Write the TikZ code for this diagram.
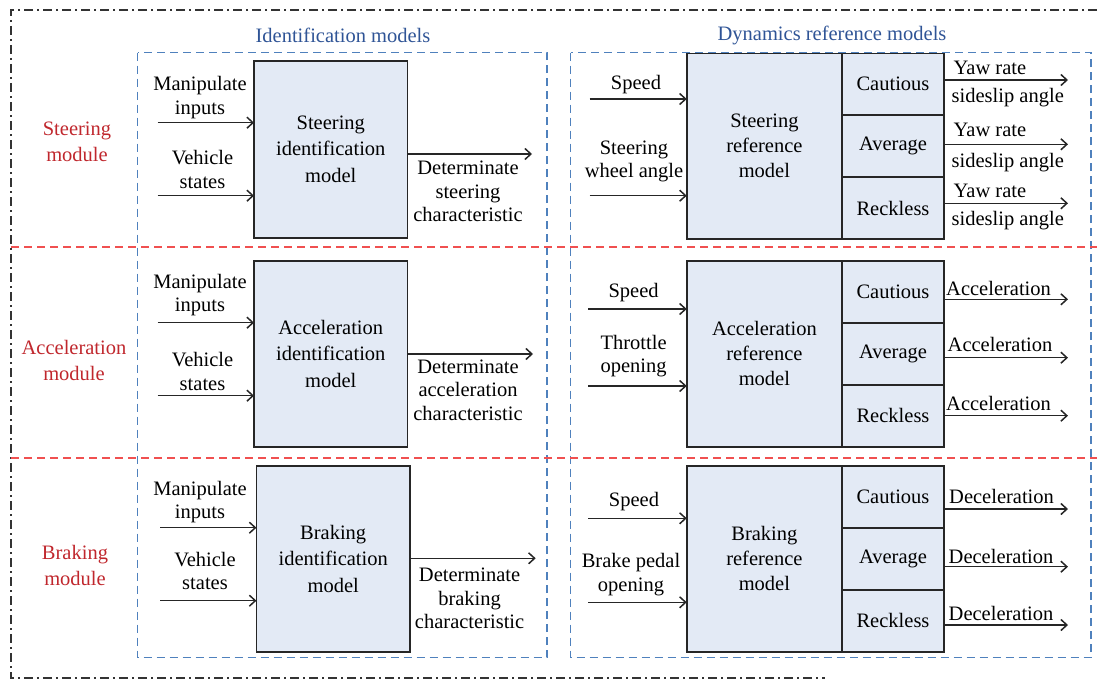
\documentclass[tikz,border=0pt]{standalone}
\usepackage{fontspec}
\setmainfont{Liberation Serif}
\usetikzlibrary{arrows.meta,positioning}

\definecolor{boxfill}{RGB}{227,234,245}
\definecolor{frameblue}{RGB}{79,129,189}
\definecolor{titleblue}{RGB}{47,84,150}
\definecolor{modred}{RGB}{192,39,45}
\definecolor{linered}{RGB}{240,80,80}

\begin{document}
\begin{tikzpicture}[x=1pt, y=-1pt,
    every node/.style={font=\fontsize{20.5}{23.5}\selectfont, align=center, inner sep=0pt},
    idbox/.style={draw=black!85, fill=boxfill, line width=1.6pt, minimum width=153.5pt, outer sep=0pt, font=\fontsize{20.5}{26.5}\selectfont},
    refbox/.style={draw=black!85, fill=boxfill, line width=1.6pt, minimum width=155.3pt, minimum height=185.7pt, outer sep=0pt, font=\fontsize{20.5}{25}\selectfont},
    drvbox/.style={draw=black!85, fill=boxfill, line width=1.6pt, minimum width=101.9pt, minimum height=61.9pt, outer sep=0pt},
    modlbl/.style={text=modred, font=\fontsize{20.5}{26.5}\selectfont},
    titlelbl/.style={text=titleblue},
    arr/.style={-{Straight Barb[length=6pt,width=11pt]}, line width=1.5pt, black!85},
    blueframe/.style={draw=frameblue, line width=1.4pt, dash pattern=on 8pt off 5pt},
    redline/.style={draw=linered, line width=1.4pt, dash pattern=on 8pt off 5pt},
    outerline/.style={draw=black!80, line width=1.3pt, dash pattern=on 9pt off 4pt on 2pt off 4pt}]

    \useasboundingbox (0,0) rectangle (1097,680);

    % Frames
    \draw[outerline] (1097,10) -- (11,10) -- (11,678) -- (825,678);
    \draw[blueframe] (137.5,52.7) rectangle (547,657.7);
    \draw[blueframe] (570.5,52.7) rectangle (1091,657.7);
    \draw[redline] (11,247) -- (1097,247);
    \draw[redline] (11,458) -- (1097,458);

    % Titles
    \node[titlelbl] (idtitle) at (343,35) {Identification models};
    \node[titlelbl] (reftitle) at (832,35) {Dynamics reference models};

    % Modules
    \node[modlbl] (steermod) at (77,142) {Steering\\module};
    \node[modlbl] (accmod) at (74,360.7) {Acceleration\\module};
    \node[modlbl] (brakemod) at (75,565.3) {Braking\\module};

    % Steering identification
    \node[idbox, minimum height=177pt] (sid) at (330.8,149.2) {Steering\\identification\\model};
    \coordinate (sidin1) at (157.5,122.7);
    \coordinate (sidin2) at (157.5,195.7);
    \coordinate (sidout) at (532,154);
    \draw[arr] (sidin1) -- (sidin1 -| sid.west);
    \draw[arr] (sidin2) -- (sidin2 -| sid.west);
    \draw[arr] (sid.east |- sidout) -- (sidout);
    \node (sidl1) at (200,97.5) {Manipulate\\inputs};
    \node (sidl2) at (202.5,169.5) {Vehicle\\states};
    \node (sidl3) at (468,191.5) {Determinate\\steering\\characteristic};

    % Acceleration identification
    \node[idbox, minimum height=185.7pt] (aid) at (330.8,353.9) {Acceleration\\identification\\model};
    \coordinate (aidin1) at (157.5,322.7);
    \coordinate (aidin2) at (157.5,395.7);
    \coordinate (aidout) at (533,354);
    \draw[arr] (aidin1) -- (aidin1 -| aid.west);
    \draw[arr] (aidin2) -- (aidin2 -| aid.west);
    \draw[arr] (aid.east |- aidout) -- (aidout);
    \node (aidl1) at (200,295) {Manipulate\\inputs};
    \node (aidl2) at (202.5,371.3) {Vehicle\\states};
    \node (aidl3) at (468,390) {Determinate\\acceleration\\characteristic};

    % Braking identification
    \node[idbox, minimum height=186pt] (bid) at (333.2,558.7) {Braking\\identification\\model};
    \coordinate (bidin1) at (160,527.7);
    \coordinate (bidin2) at (160,600.7);
    \coordinate (bidout) at (535.7,558.3);
    \draw[arr] (bidin1) -- (bidin1 -| bid.west);
    \draw[arr] (bidin2) -- (bidin2 -| bid.west);
    \draw[arr] (bid.east |- bidout) -- (bidout);
    \node (bidl1) at (200,502.2) {Manipulate\\inputs};
    \node (bidl2) at (205,571.2) {Vehicle\\states};
    \node (bidl3) at (469.6,598.7) {Determinate\\braking\\characteristic};

    % Steering reference
    \node[refbox] (sref) at (764.4,146.2) {Steering\\reference\\model};
    \node[drvbox, anchor=north west] (scau) at (sref.north east) {Cautious};
    \node[drvbox, below=0pt of scau] (savg) {Average};
    \node[drvbox, below=0pt of savg] (srec) {Reckless};
    \coordinate (srefin1) at (589.7,99);
    \coordinate (srefin2) at (589.7,195.7);
    \draw[arr] (srefin1) -- (srefin1 -| sref.west);
    \draw[arr] (srefin2) -- (srefin2 -| sref.west);
    \node (srefl1) at (636,85) {Speed};
    \node (srefl2) at (634,161.5) {Steering\\wheel angle};
    \coordinate (scauout) at (1068,80);
    \coordinate (savgout) at (1068,144.3);
    \coordinate (srecout) at (1068,203.3);
    \draw[arr] (scau.east |- scauout) -- (scauout);
    \draw[arr] (savg.east |- savgout) -- (savgout);
    \draw[arr] (srec.east |- srecout) -- (srecout);
    \node[anchor=west] (scaul1) at (953.5,68) {Yaw rate};
    \node[anchor=west] (scaul2) at (951.5,97.7) {sideslip angle};
    \node[anchor=west] (savgl1) at (953.5,130) {Yaw rate};
    \node[anchor=west] (savgl2) at (951.5,162.7) {sideslip angle};
    \node[anchor=west] (srecl1) at (953.5,191) {Yaw rate};
    \node[anchor=west] (srecl2) at (951.5,220.7) {sideslip angle};

    % Acceleration reference
    \node[refbox] (aref) at (764.4,353.9) {Acceleration\\reference\\model};
    \node[drvbox, anchor=north west] (acau) at (aref.north east) {Cautious};
    \node[drvbox, below=0pt of acau] (aavg) {Average};
    \node[drvbox, below=0pt of aavg] (arec) {Reckless};
    \coordinate (arefin1) at (588,309);
    \coordinate (arefin2) at (588,386);
    \draw[arr] (arefin1) -- (arefin1 -| aref.west);
    \draw[arr] (arefin2) -- (arefin2 -| aref.west);
    \node (arefl1) at (633.6,292.3) {Speed};
    \node (arefl2) at (633.6,356.2) {Throttle\\opening};
    \coordinate (acauout) at (1068,299.3);
    \coordinate (aavgout) at (1068,357.7);
    \coordinate (arecout) at (1068,415.7);
    \draw[arr] (acau.east |- acauout) -- (acauout);
    \draw[arr] (aavg.east |- aavgout) -- (aavgout);
    \draw[arr] (arec.east |- arecout) -- (arecout);
    \node[anchor=west] (acaul) at (946,288.3) {Acceleration};
    \node[anchor=west] (aavgl) at (947.5,344) {Acceleration};
    \node[anchor=west] (arecl) at (946,403.3) {Acceleration};

    % Braking reference
    \node[refbox, minimum height=186pt] (bref) at (764.4,558.7) {Braking\\reference\\model};
    \node[drvbox, anchor=north west, minimum height=62pt] (bcau) at (bref.north east) {Cautious};
    \node[drvbox, below=0pt of bcau, minimum height=62pt] (bavg) {Average};
    \node[drvbox, below=0pt of bavg, minimum height=62pt] (brec) {Reckless};
    \coordinate (brefin1) at (588,518.3);
    \coordinate (brefin2) at (588,602.3);
    \draw[arr] (brefin1) -- (brefin1 -| bref.west);
    \draw[arr] (brefin2) -- (brefin2 -| bref.west);
    \node (brefl1) at (634,501.7) {Speed};
    \node (brefl2) at (631,574.7) {Brake pedal\\opening};
    \coordinate (bcauout) at (1068,509);
    \coordinate (bavgout) at (1068,566.7);
    \coordinate (brecout) at (1068,625);
    \draw[arr] (bcau.east |- bcauout) -- (bcauout);
    \draw[arr] (bavg.east |- bavgout) -- (bavgout);
    \draw[arr] (brec.east |- brecout) -- (brecout);
    \node[anchor=west] (bcaul) at (949,496.7) {Deceleration};
    \node[anchor=west] (bavgl) at (948.5,556) {Deceleration};
    \node[anchor=west] (brecl) at (948.5,613.3) {Deceleration};
\end{tikzpicture}
\end{document}
